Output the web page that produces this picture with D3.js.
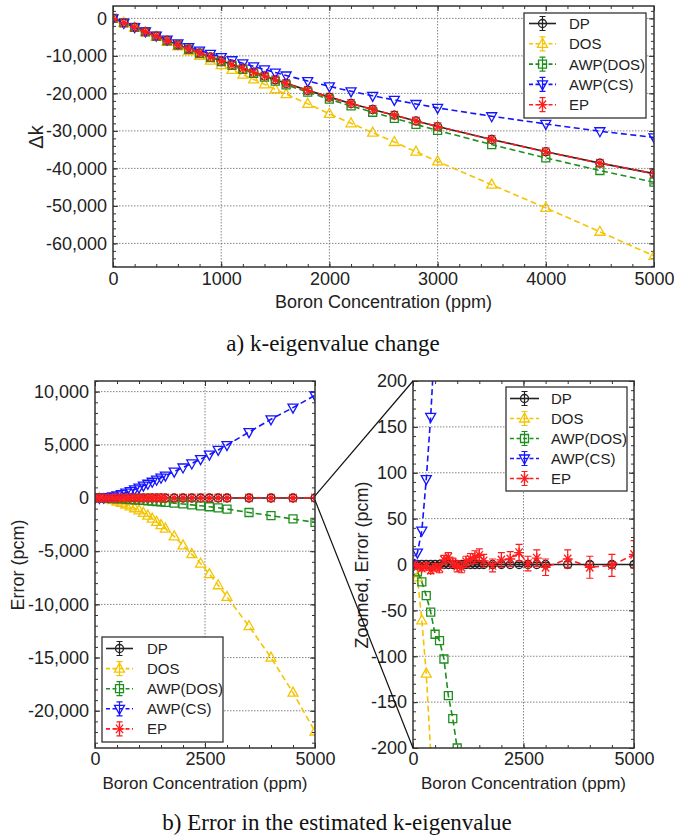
<!DOCTYPE html>
<html>
<head>
<meta charset="utf-8">
<title></title>
<style>
  body { margin: 0; background: #fff; }
  text { font-family: "Liberation Sans", Arial, sans-serif; fill: #222; }
  .cap { font-family: "Liberation Serif", "Times New Roman", serif; fill: #111; }
</style>
</head>
<body>
<script src="https://d3js.org/d3.v7.min.js"></script>
<script>
  // boron concentration (ppm)
  var boron = [0, 100, 200, 300, 400, 500, 600, 700, 800, 900, 1000, 1100, 1200, 1300, 1400, 1500, 1600,
    1800, 2000, 2200, 2400, 2600, 2800, 3000, 3500, 4000, 4500, 5000];

  var names = ["DP", "DOS", "AWP(DOS)", "AWP(CS)", "EP"];
  var colors = ["#222222", "#f5c400", "#1d8f1d", "#1414ff", "#ff1c1c"];
  var shapes = ["circle", "up", "square", "down", "star"];
  var dashed = [false, true, true, true, true];

  // a) k-eigenvalue change (pcm)
  var dkDP = [0, -1200, -2390, -3570, -4740, -5900, -7030, -8140, -9230, -10290, -11300, -12320, -13330, -14340,
    -15340, -16350, -17330, -19200, -21000, -22700, -24300, -25820, -27350, -28850, -32300, -35550, -38600, -41400];
  var dkDOS = [0, -1214, -2451, -3689, -4945, -6230, -7490, -8750, -10010, -11250, -12460, -13720, -14990, -16280,
    -17580, -18900, -20210, -22800, -25450, -27980, -30460, -32970, -35550, -38150, -44350, -50550, -56900, -63350];
  var dkAWPDOS = [0, -1208, -2409, -3604, -4792, -5976, -7113, -8243, -9373, -10458, -11500, -12550, -13592, -14635,
    -15670, -16716, -17732, -19678, -21558, -23342, -25030, -26640, -28270, -29890, -33660, -37210, -40570, -43690];
  var dkAWPCS = [0, -1187, -2353, -3477, -4579, -5650, -6660, -7640, -8580, -9480, -10320, -11160, -11990, -12810,
    -13620, -14440, -15230, -16720, -18130, -19450, -20650, -21740, -22830, -23870, -26100, -28150, -30100, -31750];
  var dkEP = [0, -1202, -2394, -3572, -4746, -5903, -7034, -8135, -9222, -10288, -11302, -12323, -13327, -14334,
    -15332, -16340, -17326, -19201, -20995, -22694, -24287, -25819, -27343, -28853, -32294, -35553, -38601, -41389];

  // b) error in the estimated k-eigenvalue (pcm)
  var errDP = [0, 0, 0, 0, 0, 0, 0, 0, 0, 0, 0, 0, 0, 0, 0, 0, 0, 0, 0, 0, 0, 0, 0, 0, 0, 0, 0, 0];
  var errDOS = [0, -14, -61, -119, -205, -330, -460, -610, -780, -960, -1160, -1400, -1660, -1940, -2240, -2550,
    -2880, -3600, -4450, -5280, -6160, -7150, -8200, -9300, -12050, -15000, -18300, -21950];
  var errAWPDOS = [0, -8, -19, -34, -52, -76, -83, -103, -143, -168, -200, -230, -262, -295, -330, -366, -402,
    -478, -558, -642, -730, -820, -920, -1040, -1360, -1660, -1970, -2290];
  var errAWPCS = [0, 13, 37, 93, 161, 250, 370, 500, 650, 810, 980, 1160, 1340, 1530, 1720, 1910, 2100, 2480,
    2870, 3250, 3650, 4080, 4520, 4980, 6200, 7400, 8500, 9650];
  var errEP = [0, -2, -4, -2, -6, -3, -4, 5, 8, 2, -2, -3, 3, 6, 8, 10, 4, -1, 5, 6, 13, 1, 7, -3, 6, -3, -1, 11];

  // one-sigma error bars
  var sigDP = [0, 2, 2, 2, 2, 2, 2, 2, 2, 2, 2, 2, 2, 2, 2, 2, 2, 2, 2, 2, 2, 2, 2, 2, 3, 3, 3, 3];
  var sigEP = [0, 3, 3, 4, 4, 4, 5, 5, 5, 5, 6, 6, 6, 6, 7, 7, 7, 7, 8, 8, 9, 8, 9, 9, 10, 12, 12, 15];

  var width = 674, height = 838;
  var svg = d3.select("body").append("svg")
    .attr("width", width)
    .attr("height", height);

  var fmtComma = function(d) { return d3.format(",")(d).replace("\u2212", "-"); };
  var fmtPlain = function(d) { return d3.format("d")(d).replace("\u2212", "-"); };

  var markerPath = {
    up: "M0,-5.5L5,3.5L-5,3.5Z",
    down: "M0,5.5L5,-3.5L-5,-3.5Z",
    square: "M-4,-4H4V4H-4Z",
    star: "M-3.6,-4.2L3.6,4.2M-3.6,4.2L3.6,-4.2M0,-5V5M-5,0H5"
  };

  function drawMarker(g, shape, color) {
    if (shape == "circle") {
      g.append("circle").attr("r", 4).attr("fill", "none")
        .attr("stroke", color).attr("stroke-width", 1.3);
    } else {
      g.append("path").attr("d", markerPath[shape]).attr("fill", "none")
        .attr("stroke", color).attr("stroke-width", 1.3);
    }
  }

  var panelId = 0;
  function panel(o) {
    panelId++;
    var x = d3.scaleLinear().domain(o.xDomain).range([o.left, o.right]);
    var y = d3.scaleLinear().domain(o.yDomain).range([o.bottom, o.top]);
    var g = svg.append("g");

    // grid
    g.selectAll(".gx").data(o.xGrid).enter().append("line")
      .attr("x1", function(d) { return x(d); }).attr("x2", function(d) { return x(d); })
      .attr("y1", o.top).attr("y2", o.bottom)
      .attr("stroke", "#666").attr("stroke-width", 0.8).attr("stroke-dasharray", "1.5,1.5");
    g.selectAll(".gy").data(o.yGrid).enter().append("line")
      .attr("x1", o.left).attr("x2", o.right)
      .attr("y1", function(d) { return y(d); }).attr("y2", function(d) { return y(d); })
      .attr("stroke", "#666").attr("stroke-width", 0.8).attr("stroke-dasharray", "1.5,1.5");

    // ticks on all four sides, pointing in
    function addAxis(axis, tx, ty, labels) {
      var a = g.append("g").attr("transform", "translate(" + tx + "," + ty + ")").call(axis);
      a.select(".domain").remove();
      a.selectAll("line").attr("stroke", "#333");
      a.attr("font-size", null).attr("font-family", null);
      a.selectAll("text").style("font-size", o.tickSize + "px").attr("fill", "#222");
      if (!labels) a.selectAll("text").remove();
      return a;
    }
    addAxis(d3.axisBottom(x).tickValues(o.xMinor).tickSize(-3).tickFormat(""), 0, o.bottom, false);
    addAxis(d3.axisTop(x).tickValues(o.xMinor).tickSize(-3).tickFormat(""), 0, o.top, false);
    addAxis(d3.axisLeft(y).tickValues(o.yMinor).tickSize(-3).tickFormat(""), o.left, 0, false);
    addAxis(d3.axisRight(y).tickValues(o.yMinor).tickSize(-3).tickFormat(""), o.right, 0, false);
    addAxis(d3.axisBottom(x).tickValues(o.xTicks).tickSize(-5).tickPadding(o.xPad).tickFormat(fmtPlain), 0, o.bottom, true);
    addAxis(d3.axisTop(x).tickValues(o.xTicks).tickSize(-5), 0, o.top, false);
    addAxis(d3.axisLeft(y).tickValues(o.yTicks).tickSize(-5).tickPadding(6).tickFormat(o.yFmt), o.left, 0, true);
    addAxis(d3.axisRight(y).tickValues(o.yTicks).tickSize(-5), o.right, 0, false);

    // data
    var clipId = "clip" + panelId;
    svg.append("clipPath").attr("id", clipId).append("rect")
      .attr("x", o.left).attr("y", o.top).attr("width", o.right - o.left).attr("height", o.bottom - o.top);
    var plot = g.append("g").attr("clip-path", "url(#" + clipId + ")");
    var line = d3.line().x(function(d) { return x(d[0]); }).y(function(d) { return y(d[1]); });

    o.series.forEach(function(vals, i) {
      var pts = boron.map(function(b, k) { return [b, vals[k]]; });
      plot.append("path").datum(pts).attr("d", line)
        .attr("fill", "none").attr("stroke", colors[i]).attr("stroke-width", 1.6)
        .attr("stroke-dasharray", dashed[i] ? "6,3.5" : null);
      var sig = o.sigma ? o.sigma[i] : null;
      pts.forEach(function(p, k) {
        var m = plot.append("g").attr("transform", "translate(" + x(p[0]) + "," + y(p[1]) + ")");
        if (sig && sig[k] > 0) {
          var h = y(p[1] - sig[k]) - y(p[1]);
          m.append("path")
            .attr("d", "M0," + (-h) + "V" + h + "M-3.5," + (-h) + "H3.5M-3.5," + h + "H3.5")
            .attr("stroke", colors[i]).attr("stroke-width", 1.2).attr("fill", "none");
        }
        drawMarker(m, shapes[i], colors[i]);
      });
    });

    // frame
    g.append("rect").attr("x", o.left).attr("y", o.top)
      .attr("width", o.right - o.left).attr("height", o.bottom - o.top)
      .attr("fill", "none").attr("stroke", "#333").attr("stroke-width", 1.5);

    // axis titles
    g.append("text").attr("x", (o.left + o.right) / 2).attr("y", o.xLabelY)
      .attr("text-anchor", "middle").style("font-size", o.labelSize + "px").text("Boron Concentration (ppm)");
    g.append("text")
      .attr("transform", "translate(" + o.yLabelX + "," + o.yLabelCy + ") rotate(-90)")
      .attr("text-anchor", "middle").attr("dy", "0.35em")
      .style("font-size", o.yLabelSize + "px").text(o.yLabel);

    // legend
    var L = o.legend;
    var lg = g.append("g");
    lg.append("rect").attr("x", L.x).attr("y", L.y).attr("width", L.w).attr("height", L.h)
      .attr("fill", "#fff").attr("stroke", "#333").attr("stroke-width", 1.3);
    names.forEach(function(n, i) {
      var cy = L.y + L.first + i * L.step;
      lg.append("line").attr("x1", L.x + L.g0).attr("x2", L.x + L.g1).attr("y1", cy).attr("y2", cy)
        .attr("stroke", colors[i]).attr("stroke-width", 1.6)
        .attr("stroke-dasharray", dashed[i] ? "4,2.5" : null);
      var m = lg.append("g").attr("transform", "translate(" + (L.x + (L.g0 + L.g1) / 2) + "," + cy + ")");
      m.append("path").attr("d", "M0,-7V7M-3,-7H3M-3,7H3")
        .attr("stroke", colors[i]).attr("stroke-width", 1.2).attr("fill", "none");
      drawMarker(m, shapes[i], colors[i]);
      lg.append("text").attr("x", L.x + L.tx).attr("y", cy).attr("dy", "0.36em")
        .style("font-size", "15px").text(n);
    });

    return { x: x, y: y };
  }

  // a) k-eigenvalue change
  panel({
    left: 113, right: 654, top: 6, bottom: 267,
    xDomain: [0, 5000], yDomain: [-66300, 3300],
    xTicks: [0, 1000, 2000, 3000, 4000, 5000], xMinor: d3.range(0, 5001, 200), xGrid: [1000, 2000, 3000, 4000],
    yTicks: d3.range(-60000, 1, 10000), yMinor: d3.range(-66000, 3001, 2000), yGrid: d3.range(-60000, 1, 10000),
    yFmt: fmtComma, xPad: 5, xLabelY: 308, labelSize: 18, tickSize: 18,
    yLabel: "\u0394k", yLabelX: 36, yLabelCy: 137, yLabelSize: 20,
    series: [dkDP, dkDOS, dkAWPDOS, dkAWPCS, dkEP],
    legend: { x: 524, y: 13, w: 122, h: 105, first: 10.5, step: 20.3, g0: 5, g1: 32, tx: 45 }
  });

  // b) error, full range
  var left = panel({
    left: 95, right: 315, top: 381, bottom: 748,
    xDomain: [0, 5000], yDomain: [-23500, 11000],
    xTicks: [0, 2500, 5000], xMinor: d3.range(0, 5001, 500), xGrid: [2500],
    yTicks: d3.range(-20000, 10001, 5000), yMinor: d3.range(-23000, 11001, 1000), yGrid: d3.range(-20000, 10001, 5000),
    yFmt: fmtComma, xPad: 4, xLabelY: 789, labelSize: 17, tickSize: 18,
    yLabel: "Error (pcm)", yLabelX: 18, yLabelCy: 565, yLabelSize: 18,
    series: [errDP, errDOS, errAWPDOS, errAWPCS, errEP],
    legend: { x: 102, y: 637, w: 121, h: 105, first: 11.5, step: 20.1, g0: 4, g1: 31, tx: 45 }
  });

  // b) error, zoomed
  var right = panel({
    left: 413, right: 634, top: 381, bottom: 748,
    xDomain: [0, 5000], yDomain: [-200, 200],
    xTicks: [0, 2500, 5000], xMinor: d3.range(0, 5001, 500), xGrid: [2500],
    yTicks: d3.range(-200, 201, 50), yMinor: d3.range(-200, 201, 10), yGrid: d3.range(-150, 151, 50),
    yFmt: fmtPlain, xPad: 4, xLabelY: 789, labelSize: 17, tickSize: 18,
    yLabel: "Zoomed, Error (pcm)", yLabelX: 362, yLabelCy: 565, yLabelSize: 18,
    series: [errDP, errDOS, errAWPDOS, errAWPCS, errEP],
    sigma: [sigDP, null, null, null, sigEP],
    legend: { x: 506, y: 387, w: 121, h: 104, first: 11.5, step: 20, g0: 4, g1: 33, tx: 45 }
  });

  // zoom guide lines
  svg.append("line")
    .attr("x1", left.x(5000)).attr("y1", left.y(200)).attr("x2", right.x(0)).attr("y2", right.y(200))
    .attr("stroke", "#111").attr("stroke-width", 1.2);
  svg.append("line")
    .attr("x1", left.x(5000)).attr("y1", left.y(-200)).attr("x2", right.x(0)).attr("y2", right.y(-200))
    .attr("stroke", "#111").attr("stroke-width", 1.2);

  // captions
  svg.append("text").attr("class", "cap").attr("x", 333).attr("y", 351)
    .attr("text-anchor", "middle").style("font-size", "23px").text("a) k-eigenvalue change");
  svg.append("text").attr("class", "cap").attr("x", 337).attr("y", 830)
    .attr("text-anchor", "middle").style("font-size", "23px").text("b) Error in the estimated k-eigenvalue");
</script>
</body>
</html>
